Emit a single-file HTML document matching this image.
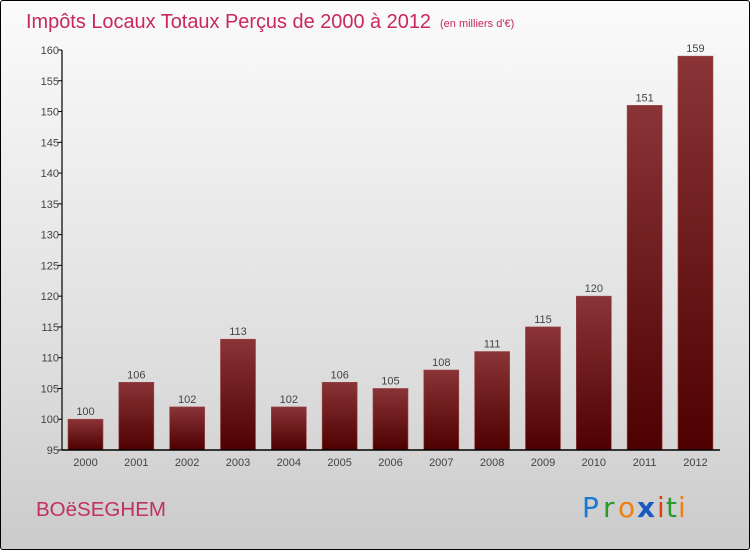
<!DOCTYPE html>
<html><head><meta charset="utf-8"><style>
body{margin:0;width:750px;height:550px;overflow:hidden;font-family:"Liberation Sans",sans-serif}
#wrap{position:absolute;left:0;top:0;width:748px;height:548px;border:1px solid #000;border-radius:3px;background:linear-gradient(#fbfbfb,#dcdcdc 70%,#cbcbcb)}
</style></head><body>
<div id="wrap">
<svg width="750" height="550" style="position:absolute;left:-1px;top:-1px">
<defs><linearGradient id="bg" x1="0" y1="0" x2="0" y2="1"><stop offset="0" stop-color="#8a3437"/><stop offset="1" stop-color="#4e0000"/></linearGradient></defs>
<text x="26" y="28" font-size="20" fill="#c8285a" font-family="Liberation Sans, sans-serif" textLength="405" lengthAdjust="spacingAndGlyphs">Impôts Locaux Totaux Perçus de 2000 à 2012</text>
<text x="440" y="27" font-size="11" fill="#c8285a">(en milliers d'€)</text>
<g id="plot"></g>
<text x="36" y="516" font-size="20" fill="#c03060" textLength="130" lengthAdjust="spacingAndGlyphs">BOëSEGHEM</text>
<g font-size="28" font-family="DejaVu Sans, sans-serif">
<text x="582" y="517" fill="#1a7ad0">P</text><text x="603" y="517" fill="#2a9a2a">r</text><text x="618" y="517" fill="#f08010">o</text><text x="637" y="517" fill="#1a5ac0" font-weight="bold">x</text><text x="657" y="517" fill="#e04010">i</text><text x="666" y="517" fill="#2a9a2a">t</text><text x="678" y="517" fill="#f08010">i</text>
</g>
</svg>
</div>
<script>
const years=["2000","2001","2002","2003","2004","2005","2006","2007","2008","2009","2010","2011","2012"];
const values=[100,106,102,113,102,106,105,108,111,115,120,151,159];
const yTicks=[95,100,105,110,115,120,125,130,135,140,145,150,155,160];
const NS="http://www.w3.org/2000/svg";
const g=document.getElementById('plot');
const y0=450,y1=50,vmin=95,vmax=160,x0=62,x1=720;
const yScale=v=>y0-(v-vmin)/(vmax-vmin)*(y0-y1);
const step=50.83,first=85.5,bw=35;
const xScale=i=>first+i*step;
function mk(t,a){const e=document.createElementNS(NS,t);for(const k in a)e.setAttribute(k,a[k]);g.appendChild(e);return e;}
values.forEach((v,i)=>{
 const r=mk('rect',{x:xScale(i)-bw/2,y:yScale(v),width:bw,height:y0-yScale(v),fill:'url(#bg)',stroke:'#9a4448','stroke-width':0.6});
 
 
 const t=mk('text',{x:xScale(i),y:yScale(v)-4,'text-anchor':'middle','font-size':11,fill:'#444'});t.textContent=v;
 
 
 const xl=mk('text',{x:xScale(i),y:466,'text-anchor':'middle','font-size':11,fill:'#444'});xl.textContent=years[i];
 
 
});
yTicks.forEach(v=>{
 mk('line',{x1:x0-4,x2:x0,y1:yScale(v),y2:yScale(v),stroke:'#000'});
 const t=mk('text',{x:x0-3,y:yScale(v)+4,'text-anchor':'end','font-size':11,fill:'#444'});t.textContent=v;
 
 
});
const ya=mk('line',{x1:x0,x2:x0,y1:y1,y2:y0,stroke:'#000','stroke-width':1.2});


const xa=mk('line',{x1:x0,x2:x1,y1:y0,y2:y0,stroke:'#000','stroke-width':1.5});


</script>
</body></html>
